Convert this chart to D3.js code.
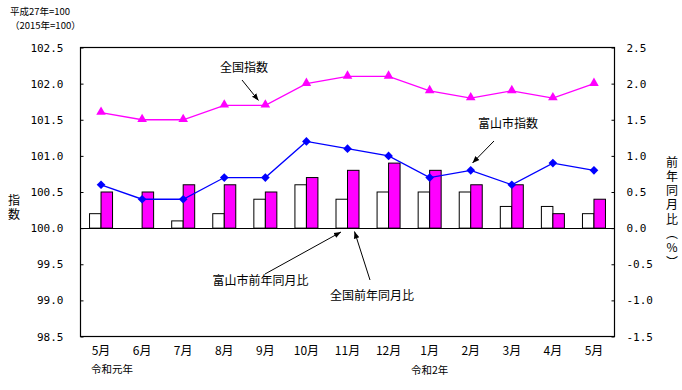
<!DOCTYPE html>
<html><head><meta charset="utf-8">
<script src="https://cdn.jsdelivr.net/npm/d3@7/dist/d3.min.js"></script>
<style>body{margin:0;background:#fff}svg{display:block}text{font-family:"Noto Sans CJK JP","Noto Sans",sans-serif;fill:#000}</style>
</head><body><svg id="c" width="682" height="390"></svg>
<script>
const months = ["5月","6月","7月","8月","9月","10月","11月","12月","1月","2月","3月","4月","5月"];
const toyamaIndex = [100.6,100.4,100.4,100.7,100.7,101.2,101.1,101.0,100.7,100.8,100.6,100.9,100.8];
const zenkokuIndex = [101.6,101.5,101.5,101.7,101.7,102.0,102.1,102.1,101.9,101.8,101.9,101.8,102.0];
const toyamaYoY = [0.2,0.0,0.1,0.2,0.4,0.6,0.4,0.5,0.5,0.5,0.3,0.3,0.2];
const zenkokuYoY = [0.5,0.5,0.6,0.6,0.5,0.7,0.8,0.9,0.8,0.6,0.6,0.2,0.4];
const leftTicks = [98.5,99.0,99.5,100.0,100.5,101.0,101.5,102.0,102.5];
const rightTicks = [-1.5,-1.0,-0.5,0.0,0.5,1.0,1.5,2.0,2.5];

const svg = d3.select("#c");
const L=80.5, R=614.5, T=47.5, B=336.5;
const x = d3.scaleBand().domain(d3.range(months.length)).range([L,R]);
const yL = d3.scaleLinear().domain([98.5,102.5]).range([B,T]);
const yR = d3.scaleLinear().domain([-1.5,2.5]).range([B,T]);
const bw = 11.5;

// bars
const g = svg.append("g");
g.selectAll(".bt").data(toyamaYoY).join("rect")
  .attr("x",(d,i)=>x(i)+x.bandwidth()/2-bw).attr("width",bw)
  .attr("y",d=>yR(d)).attr("height",d=>yR(0)-yR(d))
  .attr("fill","#fff").attr("stroke","#000").attr("stroke-width",1);
g.selectAll(".bz").data(zenkokuYoY).join("rect")
  .attr("x",(d,i)=>x(i)+x.bandwidth()/2).attr("width",bw)
  .attr("y",d=>yR(d)).attr("height",d=>yR(0)-yR(d))
  .attr("fill","#ff00ff").attr("stroke","#000").attr("stroke-width",1);

// zero line
svg.append("line").attr("x1",L).attr("x2",R).attr("y1",Math.round(yR(0))+0.5).attr("y2",Math.round(yR(0))+0.5).attr("stroke","#000");

// frame
svg.append("rect").attr("x",L).attr("y",T).attr("width",R-L).attr("height",B-T).attr("fill","none").attr("stroke","#000").attr("stroke-width",1.2);

// axes
const axL = d3.axisLeft(yL).tickValues(leftTicks).tickSize(-3).tickPadding(17).tickFormat(d3.format(".1f"));
const gl = svg.append("g").attr("transform",`translate(${L},0)`).call(axL);
gl.select(".domain").remove();
const axR = d3.axisRight(yR).tickValues(rightTicks).tickSize(-3).tickPadding(12).tickFormat(d=>d3.format(".1f")(d).replace("−","-"));
const gr = svg.append("g").attr("transform",`translate(${R},0)`).call(axR);
gr.select(".domain").remove();
[gl,gr].forEach(a=>{a.selectAll("text").style("font-family","'DejaVu Sans Mono',monospace").attr("font-size",11);a.selectAll(".tick line").attr("stroke","#000");});

const axB = d3.axisBottom(x).tickSize(0).tickPadding(10).tickFormat(i=>months[i]);
const gb = svg.append("g").attr("transform",`translate(0,${B})`).call(axB);
gb.select(".domain").remove();
gb.selectAll("text").attr("font-size",12);

// lines
const lineL = d3.line().x((d,i)=>x(i)+x.bandwidth()/2).y(d=>yL(d));
svg.append("path").datum(zenkokuIndex).attr("d",lineL).attr("fill","none").attr("stroke","#ff00ff").attr("stroke-width",1.3);
svg.append("path").datum(toyamaIndex).attr("d",lineL).attr("fill","none").attr("stroke","#0000ff").attr("stroke-width",1.3);
const tri = d3.symbol().type(d3.symbolTriangle).size(40);
svg.selectAll(".mt").data(zenkokuIndex).join("path").attr("d",tri)
  .attr("transform",(d,i)=>`translate(${x(i)+x.bandwidth()/2},${yL(d)-0.5})`).attr("fill","#ff00ff");
const dia = d3.symbol().type(d3.symbolDiamond2).size(48);
svg.selectAll(".md").data(toyamaIndex).join("path").attr("d",dia)
  .attr("transform",(d,i)=>`translate(${x(i)+x.bandwidth()/2},${yL(d)})`).attr("fill","#0000ff");

// annotations
svg.append("defs").append("marker").attr("id","ah").attr("viewBox","0 0 10 10").attr("refX",10).attr("refY",5)
  .attr("markerWidth",7).attr("markerHeight",7).attr("orient","auto").attr("markerUnits","userSpaceOnUse")
  .append("path").attr("d","M0,1 L10,5 L0,9 Z").attr("fill","#000");
function arrow(x1,y1,x2,y2){svg.append("line").attr("x1",x1).attr("y1",y1).attr("x2",x2).attr("y2",y2).attr("stroke","#000").attr("stroke-width",1).attr("marker-end","url(#ah)");}
function label(t,xx,yy){svg.append("text").attr("x",xx).attr("y",yy).attr("font-size",12).attr("dominant-baseline","middle").text(t);}
label("全国指数",220,69); arrow(242,80,258.5,100.5);
label("富山市指数",478,125); arrow(494,141,472.5,163);
label("富山市前年同月比",212.5,282); arrow(265,274,341,232);
label("全国前年同月比",330,297); arrow(370,280,354.5,231.5);

// titles
svg.append("text").attr("x",10).attr("y",12).attr("font-size",9.5).attr("dominant-baseline","middle").text("平成27年=100");
svg.append("text").attr("x",10).attr("y",26).attr("font-size",9.5).attr("dominant-baseline","middle").text("（2015年=100）");
svg.append("text").attr("x",91).attr("y",370).attr("font-size",10.5).attr("dominant-baseline","middle").text("令和元年");
svg.append("text").attr("x",411).attr("y",371.5).attr("font-size",10.5).attr("dominant-baseline","middle").text("令和2年");
svg.append("text").attr("x",14).attr("y",194).attr("font-size",12)
  .style("writing-mode","vertical-rl").style("text-orientation","upright").style("letter-spacing","2px").text("指数");
svg.append("text").attr("x",672).attr("y",156).attr("font-size",12)
  .style("writing-mode","vertical-rl").style("text-orientation","upright").style("letter-spacing","2.3px").text("前年同月比（%）");
</script></body></html>
